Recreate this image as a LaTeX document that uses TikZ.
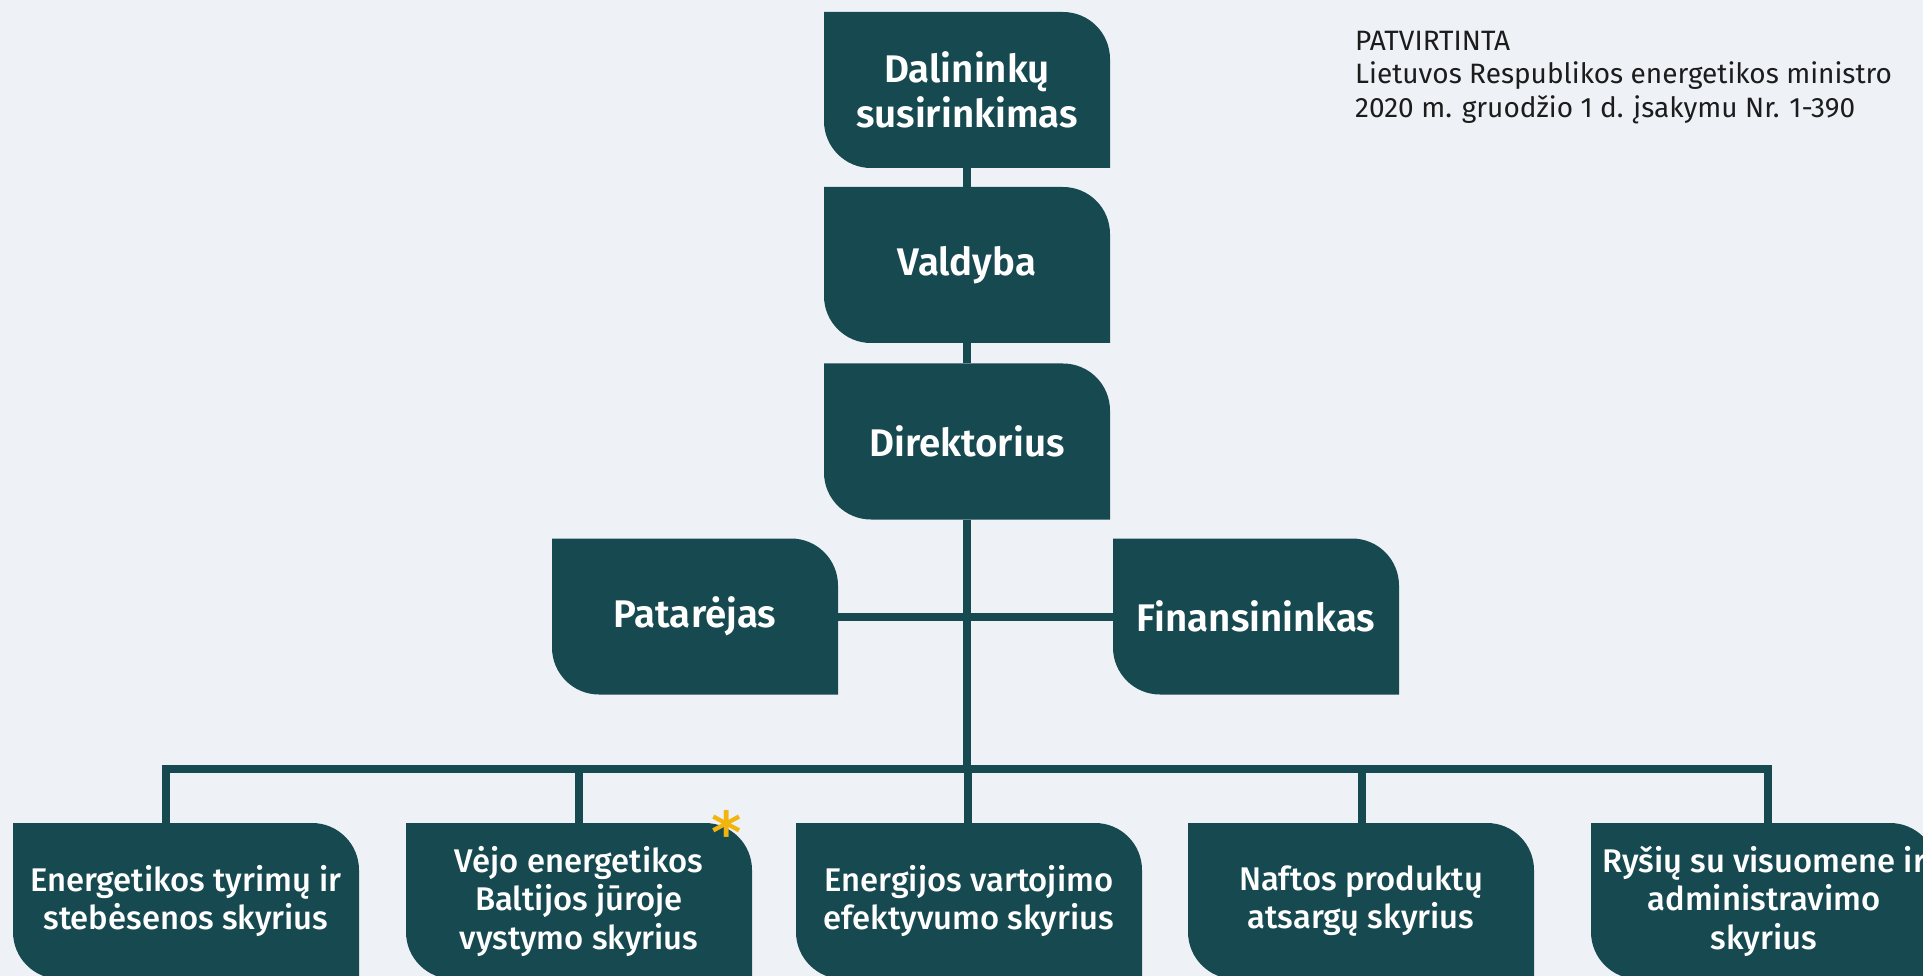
\documentclass[tikz,border=0pt]{standalone}
\usepackage{fontspec}
\setmainfont{Fira Sans}
\newfontfamily\firamed{Fira Sans}[UprightFont=* Medium, BoldFont=* SemiBold]
\newfontfamily\starfont{DejaVu Sans}
\definecolor{boxc}{HTML}{174A50}
\definecolor{bgc}{HTML}{EEF2F6}
\definecolor{starc}{HTML}{F2B50F}
\definecolor{txtc}{HTML}{1C1C1C}
\tikzset{
  leaf/.style={inner sep=0pt, fill=bgc, text=white, align=center,
    path picture={\fill[boxc] (path picture bounding box.north west)
      -- ([xshift=-#1pt]path picture bounding box.north east)
      arc[start angle=90,end angle=0,radius=#1pt]
      -- (path picture bounding box.south east)
      -- ([xshift=#1pt]path picture bounding box.south west)
      arc[start angle=270,end angle=180,radius=#1pt] -- cycle;}},
  topbox/.style={leaf=47, minimum width=286pt, minimum height=156pt,
    font=\firamed\bfseries\fontsize{38.5}{45}\selectfont},
  deptbox/.style={leaf=47, minimum width=346pt, minimum height=156pt,
    font=\firamed\fontsize{32.8}{38.5}\selectfont},
  link/.style={draw=boxc, line width=8pt}
}
\begin{document}
\begin{tikzpicture}[x=1pt,y=1pt]
\fill[bgc] (0,0) rectangle (1923,-976);
\useasboundingbox (0,0) rectangle (1923,-976);

% top chain
\node[topbox] (dal) at (967,-90) {Dalininkų\\susirinkimas};
\node[topbox] (val) at (967,-265) {Valdyba};
\node[topbox] (dir) at (967,-441.5) {Direktorius};
\node[topbox] (pat) at (695,-616.5) {Patarėjas};
\node[topbox] (fin) at (1256,-616.5) {Finansininkas};

% departments
\node[deptbox] (d1) at (186,-901) {Energetikos tyrimų ir\\stebėsenos skyrius};
\node[deptbox] (d2) at (579,-901) {Vėjo energetikos\\Baltijos jūroje\\vystymo skyrius};
\node[deptbox] (d3) at (969,-901) {Energijos vartojimo\\efektyvumo skyrius};
\node[deptbox] (d4) at (1361,-901) {Naftos produktų\\atsargų skyrius};
\node[deptbox] (d5) at (1764,-901) {Ryšių su visuomene ir\\administravimo\\skyrius};

% asterisk
\node[text=starc, font=\starfont\bfseries\fontsize{58}{58}\selectfont, inner sep=0pt] (star) at (727,-832) {*};

% approval note
\node[anchor=north west, align=left, inner sep=0pt, text=txtc,
  font=\fontsize{28}{33.5}\selectfont] (note) at (1355,-31)
  {PATVIRTINTA\\Lietuvos Respublikos energetikos ministro\\2020 m. gruodžio 1 d. įsakymu Nr. 1-390};

% bus coordinates
\coordinate (b1) at (166,-769);
\coordinate (b2) at (579,-769);
\coordinate (b3) at (968,-769);
\coordinate (b4) at (1362,-769);
\coordinate (b5) at (1768,-769);

% connectors
\draw[link] (dal.south) -- (val.north);
\draw[link] (val.south) -- (dir.north);
\draw[link] (dir.south) -- (dir.south |- b3);
\draw[link] (pat.east) -- (fin.west);
\draw[link, line cap=rect] (b1) -- (b5);
\draw[link] (b1) -- (b1 |- d1.north);
\draw[link] (b2) -- (b2 |- d2.north);
\draw[link] (b3) -- (b3 |- d3.north);
\draw[link] (b4) -- (b4 |- d4.north);
\draw[link] (b5) -- (b5 |- d5.north);
\end{tikzpicture}
\end{document}
